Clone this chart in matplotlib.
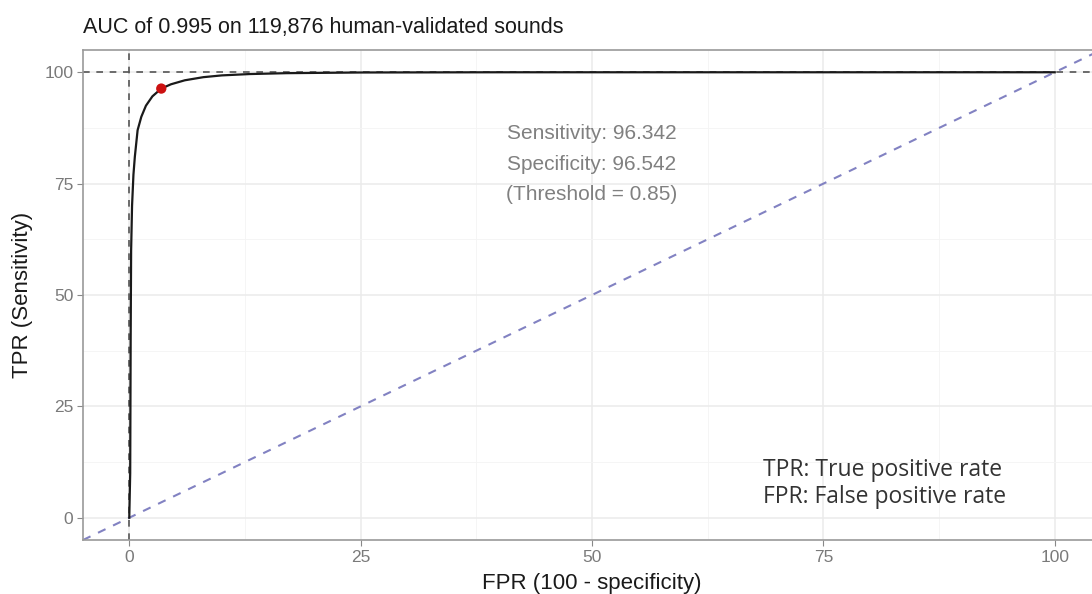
import matplotlib
matplotlib.use("Agg")
import matplotlib.pyplot as plt
from matplotlib.ticker import FixedLocator

# ROC curve (FPR %, TPR %)
fpr = [0, 0.1, 0.15, 0.2, 0.3, 0.45, 0.6, 0.9, 1.3, 1.8, 2.5, 3.458, 4.5, 6, 8, 10, 13, 17, 25, 40, 100]
tpr = [0, 10, 40, 60, 70, 77, 81, 87, 90, 92.5, 94.6, 96.342, 97.3, 98.2, 98.9, 99.3, 99.6, 99.8, 99.95, 100, 100]

best_fpr = [100 - 96.542]
best_tpr = [96.342]

ticks = [0, 25, 50, 75, 100]
minor_ticks = [12.5, 37.5, 62.5, 87.5]
diag = [-5, 105]

title = "AUC of 0.995 on 119,876 human-validated sounds"
ann_lines = ["Sensitivity: 96.342", "Specificity: 96.542", "(Threshold = 0.85)"]
legend_lines = ["TPR: True positive rate", "FPR: False positive rate"]

plt.rcParams['font.family'] = ['Liberation Sans', 'DejaVu Sans']

fig = plt.figure(figsize=(10.92, 5.94), dpi=100)
ax = fig.add_axes([83/1092, 1 - 540/594, (1101 - 83)/1092, 490/594])
ax.set_xlim(-5, 105)
ax.set_ylim(-5, 105)

ax.xaxis.set_major_locator(FixedLocator(ticks))
ax.yaxis.set_major_locator(FixedLocator(ticks))
ax.xaxis.set_minor_locator(FixedLocator(minor_ticks))
ax.yaxis.set_minor_locator(FixedLocator(minor_ticks))
ax.grid(which='major', color='#EBEBEB', lw=1.1, zorder=0)
ax.grid(which='minor', color='#F4F4F4', lw=0.6, zorder=0)
ax.set_axisbelow(True)
ax.tick_params(which='minor', length=0)
ax.tick_params(which='major', length=4, color='#888888', labelcolor='#7A7A7A', labelsize=12.5, pad=3)
for s in ax.spines.values():
    s.set_color('#9A9A9A')
    s.set_linewidth(1.2)

ax.plot(diag, diag, ls=(0, (4, 4)), color='#8282C2', lw=1.5, zorder=2)
ax.axhline(100, ls=(0, (4, 4)), color='#555555', lw=1.2, zorder=2)
ax.axvline(0, ls=(0, (4, 4)), color='#555555', lw=1.2, zorder=2)
ax.plot(fpr, tpr, color='#1A1A1A', lw=1.6, zorder=3, solid_joinstyle='round')
ax.scatter(best_fpr, best_tpr, s=55, color='#CC1111', zorder=4, edgecolors='none')

for i, t in enumerate(ann_lines):
    ax.text(50, 86.3 - i * 6.9, t, ha='center', va='center', color='#808080', fontsize=15)

for i, t in enumerate(legend_lines):
    fig.text(763/1092, 1 - (470 + i * 27)/594, t, ha='left', va='center', color='#333333',
             fontsize=16.5, family=['Open Sans', 'DejaVu Sans'])

fig.text(83/1092, 1 - 27/594, title, ha='left', va='center', fontsize=15.5, color='#1A1A1A')
ax.set_xlabel("FPR (100 - specificity)", fontsize=16, color='#1A1A1A', labelpad=6)
ax.set_ylabel("TPR (Sensitivity)", fontsize=16, color='#1A1A1A', labelpad=8)

fig.savefig("out.png", dpi=100)
